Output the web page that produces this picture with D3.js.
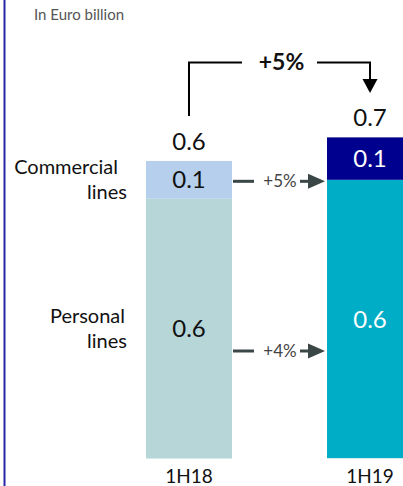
<!DOCTYPE html>
<html>
<head>
<meta charset="utf-8">
<script src="https://cdn.jsdelivr.net/npm/d3@7/dist/d3.min.js"></script>
<style>
  html, body { margin: 0; padding: 0; background: #fff; }
  svg { display: block; font-family: Lato, "Noto Sans", sans-serif; }
</style>
</head>
<body>
<svg id="chart" width="403" height="486"></svg>
<script>
// ---- data ----
const periods = ["1H18", "1H19"];
const segments = ["Personal lines", "Commercial lines"];
const personalValues = [0.55, 0.59];
const commercialValues = [0.08, 0.09];
const personalLabels = ["0.6", "0.6"];
const commercialLabels = ["0.1", "0.1"];
const totalLabels = ["0.6", "0.7"];
const growthLabels = ["+4%", "+5%"];      // personal, commercial
const totalGrowthLabel = "+5%";
const unitLabel = "In Euro billion";

const colors = {
  personal: ["#b6d6d8", "#00adc6"],
  commercial: ["#b5cfed", "#00008f"],
  text: ["#111", "#fff"]
};

const svg = d3.select("#chart");
const W = 403, H = 486;

// left accent rule
svg.append("rect").attr("x", 3.5).attr("y", 0).attr("width", 2).attr("height", H).attr("fill", "#2626a8");

svg.append("text").attr("x", 34).attr("y", 20).attr("font-size", 15).attr("fill", "#555")
  .text(unitLabel);

const x = d3.scaleBand().domain(periods).range([146, 413]).paddingInner(0.525).paddingOuter(0);
const y = d3.scaleLinear().domain([0, 0.6]).range([458, 458 - 0.6 * 471.5]);

const data = periods.map((p, i) => ({
  period: p, i,
  personal: personalValues[i], commercial: commercialValues[i],
  total: personalValues[i] + commercialValues[i]
}));

const g = svg.append("g");
g.selectAll("rect.pers").data(data).join("rect").attr("class", "pers")
  .attr("x", d => x(d.period)).attr("width", x.bandwidth())
  .attr("y", d => y(d.personal)).attr("height", d => y(0) - y(d.personal))
  .attr("fill", d => colors.personal[d.i]);
g.selectAll("rect.comm").data(data).join("rect").attr("class", "comm")
  .attr("x", d => x(d.period)).attr("width", x.bandwidth())
  .attr("y", d => y(d.total)).attr("height", d => y(d.personal) - y(d.total))
  .attr("fill", d => colors.commercial[d.i]);
g.selectAll("rect.base").data(data).join("rect").attr("class", "base")
  .attr("x", d => x(d.period)).attr("width", x.bandwidth())
  .attr("y", y(0)).attr("height", 1).attr("fill", "#d4ecee");

const cx = d => x(d.period) + x.bandwidth() / 2;
const NUM = 24;

g.selectAll("text.pl").data(data).join("text").attr("class", "pl")
  .attr("x", d => cx(d)).attr("y", d => d.i === 0 ? 337 : 328)
  .attr("text-anchor", "middle").attr("font-size", NUM)
  .attr("fill", d => colors.text[d.i]).text(d => personalLabels[d.i]);
g.selectAll("text.cl").data(data).join("text").attr("class", "cl")
  .attr("x", d => cx(d)).attr("y", d => (y(d.total) + y(d.personal)) / 2 + 8.5)
  .attr("text-anchor", "middle").attr("font-size", NUM)
  .attr("fill", d => colors.text[d.i]).text(d => commercialLabels[d.i]);
g.selectAll("text.tot").data(data).join("text").attr("class", "tot")
  .attr("x", d => cx(d)).attr("y", d => y(d.total) - 11)
  .attr("text-anchor", "middle").attr("font-size", NUM)
  .attr("fill", "#111").text(d => totalLabels[d.i]);
g.selectAll("text.per").data(data).join("text").attr("class", "per")
  .attr("x", d => cx(d)).attr("y", 483)
  .attr("text-anchor", "middle").attr("font-size", 19)
  .attr("fill", "#111").text(d => d.period);

const segFS = 20;
const leftLabels = [
  { t: "Commercial", x: 118, y: 174 },
  { t: "lines", x: 127, y: 199 },
  { t: "Personal", x: 125, y: 323 },
  { t: "lines", x: 127, y: 348 }
];
svg.selectAll("text.seg").data(leftLabels).join("text").attr("class", "seg")
  .attr("x", d => d.x).attr("y", d => d.y).attr("text-anchor", "end")
  .attr("font-size", segFS).attr("fill", "#111").text(d => d.t);

const arrowColor = "#3b4646";
const x0 = x(periods[0]) + x.bandwidth();
const x1 = x(periods[1]);
const rows = [
  { label: growthLabels[1], yy: (y(data[0].total) + y(data[0].personal)) / 2 + 1.5 },
  { label: growthLabels[0], yy: 351 }
];
rows.forEach(r => {
  svg.append("line").attr("x1", x0 + 1).attr("x2", x0 + 22).attr("y1", r.yy).attr("y2", r.yy)
    .attr("stroke", arrowColor).attr("stroke-width", 3);
  svg.append("text").attr("x", (x0 + x1) / 2 + 0.5).attr("y", r.yy + 6).attr("text-anchor", "middle")
    .attr("font-size", 17).attr("fill", "#444").text(r.label);
  svg.append("line").attr("x1", x0 + 68).attr("x2", x1 - 16).attr("y1", r.yy).attr("y2", r.yy)
    .attr("stroke", arrowColor).attr("stroke-width", 3);
  svg.append("path")
    .attr("d", `M${x1 - 19},${r.yy - 7.5}L${x1 - 2},${r.yy}L${x1 - 19},${r.yy + 7.5}Z`)
    .attr("fill", arrowColor);
});

const bx0 = cx(data[0]), bx1 = cx(data[1]);
const by = 62.5;
svg.append("path")
  .attr("d", `M${bx0},${116}V${by}H${242}`)
  .attr("fill", "none").attr("stroke", "#000").attr("stroke-width", 2);
svg.append("path")
  .attr("d", `M${317},${by}H${bx1}V${80}`)
  .attr("fill", "none").attr("stroke", "#000").attr("stroke-width", 2);
svg.append("path")
  .attr("d", `M${bx1 - 7.5},${79}L${bx1 + 7.5},${79}L${bx1},${93}Z`)
  .attr("fill", "#000");
svg.append("text").attr("x", 281.5).attr("y", 70).attr("text-anchor", "middle")
  .attr("font-size", 23).attr("font-weight", "bold").attr("fill", "#111").text(totalGrowthLabel);
</script>
</body>
</html>
